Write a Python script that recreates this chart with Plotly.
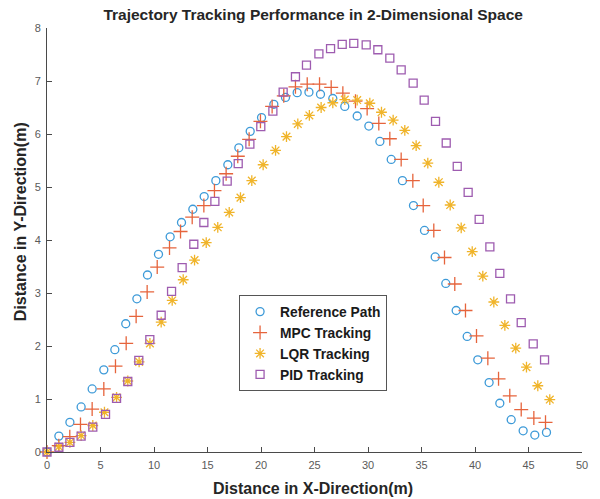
import plotly.graph_objects as go

ref_x = [0, 1.11, 2.14, 3.19, 4.22, 5.31, 6.34, 7.36, 8.40, 9.39, 10.42, 11.51, 12.57, 13.63, 14.69,
         15.78, 16.90, 17.93, 18.99, 20.05, 21.20, 22.29, 23.38, 24.48, 25.56, 26.71, 27.83, 28.99,
         30.08, 31.11, 32.17, 33.22, 34.25, 35.28, 36.28, 37.27, 38.24, 39.27, 40.26, 41.32, 42.32,
         43.38, 44.50, 45.59, 46.68]
ref_y = [0, 0.30, 0.56, 0.85, 1.19, 1.55, 1.93, 2.42, 2.89, 3.34, 3.73, 4.06, 4.33, 4.58, 4.82,
         5.12, 5.42, 5.74, 6.05, 6.31, 6.56, 6.69, 6.78, 6.79, 6.75, 6.67, 6.52, 6.34, 6.15, 5.86,
         5.52, 5.12, 4.65, 4.18, 3.68, 3.18, 2.67, 2.18, 1.74, 1.31, 0.92, 0.61, 0.40, 0.32, 0.37]

mpc_x = [0, 1.10, 2.13, 3.13, 4.22, 5.31, 6.40, 7.40, 8.33, 9.36, 10.30, 11.45, 12.48, 13.57, 14.66,
         15.65, 16.74, 17.83, 18.89, 19.95, 21.04, 22.13, 23.22, 24.32, 25.47, 26.56, 27.65, 28.83,
         29.92, 31.01, 32.04, 33.10, 34.19, 35.16, 36.15, 37.15, 38.11, 39.11, 40.14, 41.20, 42.20,
         43.25, 44.32, 45.50, 46.59]
mpc_y = [0, 0.12, 0.29, 0.52, 0.81, 1.19, 1.62, 2.05, 2.56, 3.02, 3.49, 3.85, 4.16, 4.43, 4.65,
         4.93, 5.25, 5.58, 5.90, 6.24, 6.52, 6.72, 6.89, 6.94, 6.94, 6.88, 6.77, 6.62, 6.48, 6.20,
         5.91, 5.52, 5.12, 4.65, 4.18, 3.67, 3.17, 2.67, 2.19, 1.77, 1.38, 1.06, 0.80, 0.64, 0.56]

lqr_x = [0, 1.11, 2.14, 3.19, 4.28, 5.37, 6.50, 7.55, 8.61, 9.62, 10.67, 11.70, 12.73, 13.79, 14.88,
         15.96, 17.03, 18.08, 19.14, 20.20, 21.36, 22.38, 23.44, 24.52, 25.62, 26.71, 27.83, 28.99,
         30.17, 31.26, 32.35, 33.44, 34.50, 35.59, 36.62, 37.68, 38.71, 39.74, 40.73, 41.76, 42.79,
         43.81, 44.81, 45.87, 46.99]
lqr_y = [0, 0.10, 0.18, 0.31, 0.50, 0.75, 1.03, 1.34, 1.70, 2.05, 2.45, 2.86, 3.25, 3.62, 3.95,
         4.24, 4.52, 4.80, 5.12, 5.42, 5.69, 5.95, 6.19, 6.35, 6.50, 6.59, 6.65, 6.64, 6.58, 6.41,
         6.26, 6.07, 5.78, 5.45, 5.09, 4.66, 4.23, 3.78, 3.32, 2.83, 2.39, 1.96, 1.60, 1.25, 0.99]

pid_x = [0, 1.11, 2.14, 3.19, 4.28, 5.47, 6.50, 7.55, 8.58, 9.61, 10.67, 11.64, 12.63, 13.72, 14.66,
         15.69, 16.84, 17.87, 18.96, 19.98, 21.11, 22.07, 23.22, 24.25, 25.41, 26.50, 27.59, 28.67,
         29.83, 30.92, 32.04, 33.10, 34.22, 35.25, 36.31, 37.31, 38.34, 39.36, 40.39, 41.39, 42.32,
         43.32, 44.32, 45.44, 46.50]
pid_y = [0, 0.09, 0.18, 0.30, 0.47, 0.71, 1.01, 1.33, 1.73, 2.12, 2.58, 3.03, 3.48, 3.92, 4.33,
         4.73, 5.11, 5.44, 5.81, 6.14, 6.43, 6.79, 7.08, 7.30, 7.51, 7.61, 7.69, 7.71, 7.68, 7.59,
         7.43, 7.21, 6.96, 6.64, 6.24, 5.83, 5.39, 4.90, 4.39, 3.87, 3.37, 2.89, 2.44, 2.04, 1.74]

names = ["Reference Path", "MPC Tracking", "LQR Tracking", "PID Tracking"]
colors = ["#3d9ad8", "#e6643c", "#f0b42a", "#9e5cb0"]
x_ticks = [0, 5, 10, 15, 20, 25, 30, 35, 40, 45, 50]
y_ticks = [0, 1, 2, 3, 4, 5, 6, 7, 8]
title_text = "Trajectory Tracking Performance in 2-Dimensional Space"
x_label = "Distance in X-Direction(m)"
y_label = "Distance in Y-Direction(m)"

FONT = "Liberation Sans, Arial, sans-serif"

fig = go.Figure()
series = [(ref_x, ref_y, "circle-open", 8),
          (mpc_x, mpc_y, "cross-thin-open", 10),
          (lqr_x, lqr_y, "asterisk-open", 9),
          (pid_x, pid_y, "square-open", 8)]
for i, (xs, ys, sym, sz) in enumerate(series):
    fig.add_trace(go.Scatter(
        x=xs, y=ys, mode="markers", name=names[i], cliponaxis=False,
        marker=dict(symbol=sym, size=sz, color=colors[i],
                    line=dict(color=colors[i], width=1.3)),
    ))

fig.update_layout(
    width=600, height=499,
    margin=dict(l=47, r=18, t=28, b=47),
    paper_bgcolor="white", plot_bgcolor="white",
    font=dict(family=FONT, size=11, color="#262626"),
    title=dict(text="<b>" + title_text + "</b>",
               x=0.522, xanchor="center", y=1 - 15 / 499, yanchor="middle",
               font=dict(size=15.5, color="#262626")),
    showlegend=True,
    legend=dict(x=0.359, y=0.37, xanchor="left", yanchor="top",
                bgcolor="white", bordercolor="#555555", borderwidth=1,
                font=dict(size=13.8, color="#1a1a1a", family=FONT, weight="bold")),
    annotations=[
        dict(text="<b>" + x_label + "</b>", xref="paper", yref="paper",
             x=0.498, y=-0.086, xanchor="center", yanchor="middle", showarrow=False,
             font=dict(size=16, color="#262626")),
        dict(text="<b>" + y_label + "</b>", xref="paper", yref="paper", textangle=-90,
             x=-0.049, y=0.544, xanchor="center", yanchor="middle", showarrow=False,
             font=dict(size=16, color="#262626")),
    ],
)
fig.update_xaxes(range=[0, 50], tickvals=x_ticks,
                 showgrid=False, zeroline=False, showline=True, linecolor="#4a4a4a", linewidth=1,
                 ticks="inside", ticklen=5, tickcolor="#4a4a4a", ticklabelstandoff=3,
                 tickfont=dict(size=11, color="#5a5a5a"))
fig.update_yaxes(range=[0, 8], tickvals=y_ticks,
                 showgrid=False, zeroline=False, showline=True, linecolor="#4a4a4a", linewidth=1,
                 ticks="inside", ticklen=5, tickcolor="#4a4a4a", ticklabelstandoff=3,
                 tickfont=dict(size=11, color="#5a5a5a"))

fig.write_html("out.html")
